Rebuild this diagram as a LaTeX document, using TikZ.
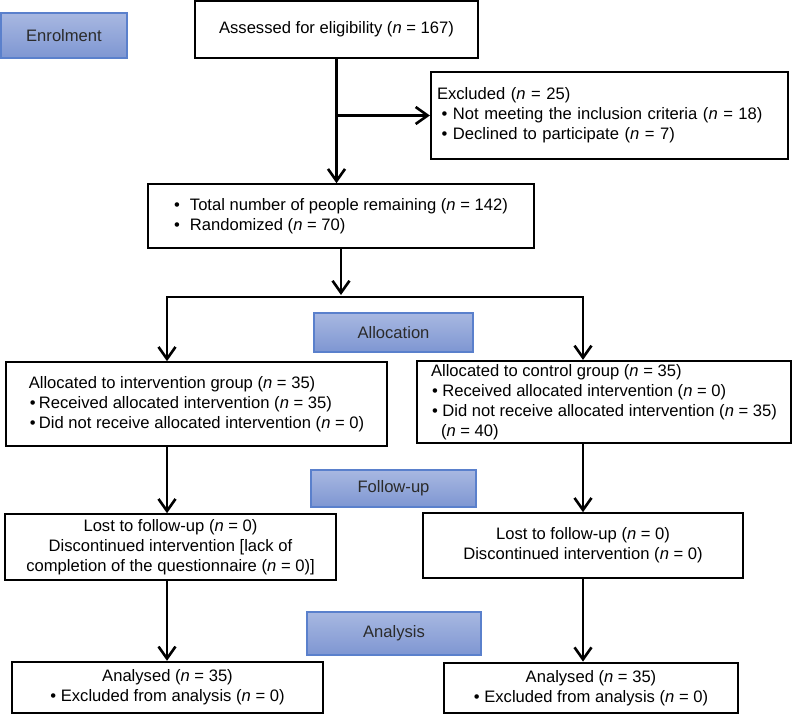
\documentclass[tikz,border=0pt]{standalone}
\usepackage{fontspec}
\setmainfont{Liberation Sans}
\usetikzlibrary{arrows.meta, positioning}

\definecolor{stagetop}{HTML}{A8B8E1}
\definecolor{stagebot}{HTML}{7E96D2}
\definecolor{stageline}{HTML}{5A80CC}
\definecolor{stagetext}{HTML}{2B2B2B}

\newcommand{\nn}{\textit{n}}

\begin{document}
\begin{tikzpicture}[x=1pt, y=-1pt,
        font=\fontsize{16.6}{20}\selectfont,
        >={Straight Barb[length=12pt, width=17pt]},
        flowbox/.style = {draw, line width=1.8pt, fill=white, align=center, inner xsep=4pt, inner ysep=2pt},
        stagebox/.style = {draw=stageline, line width=1.6pt, top color=stagetop, bottom color=stagebot, text=stagetext, inner sep=0pt},
        flowline/.style = {line width=2.6pt},
    ]
    \useasboundingbox (0,0) rectangle (792,714);
    % stages
    \node[stagebox, minimum width=126pt, minimum height=45pt]   (enrol)    at (64,35.5)    {Enrolment};
    \node[stagebox, minimum width=159pt, minimum height=39pt]   (alloc)    at (393.5,332.5) {Allocation};
    \node[stagebox, minimum width=165pt, minimum height=37pt]   (follow)   at (393.5,488.5) {Follow-up};
    \node[stagebox, minimum width=174pt, minimum height=43pt]   (analysis) at (394,633.5)   {Analysis};
    % boxes
    \node[flowbox, line width=2.4pt, minimum width=283pt, minimum height=57pt] (assessed) at (336.5,29.5)
        {Assessed for eligibility (\nn{} = 167)};
    \node[flowbox, line width=2.2pt, align=left, text width=345pt, inner xsep=6pt, minimum height=87pt] (excluded) at (609.5,115.5)
        {Excluded (\nn{} = 25)\\\hspace*{4.6pt}•\ Not meeting the inclusion criteria (\nn{} = 18)\\\hspace*{4.6pt}•\ Declined to participate (\nn{} = 7)};
    \node[flowbox, line width=1.6pt, align=left, minimum width=386pt, minimum height=64pt] (remain) at (341,216)
        {•\hspace{10pt}Total number of people remaining (\nn{} = 142)\\•\hspace{10pt}Randomized (\nn{} = 70)};
    \node[flowbox, line width=1.6pt, align=left, minimum width=381pt, minimum height=84pt] (interv) at (196.5,404)
        {Allocated to intervention group (\nn{} = 35)\\\hspace*{1pt}•\hspace{3.4pt}Received allocated intervention (\nn{} = 35)\\\hspace*{1pt}•\hspace{3.4pt}Did not receive allocated intervention (\nn{} = 0)};
    \node[flowbox, line width=2.2pt, align=left, minimum width=374pt, minimum height=82pt] (control) at (604,402)
        {Allocated to control group (\nn{} = 35)\\\hspace*{1pt}•\ Received allocated intervention (\nn{} = 0)\\\hspace*{1pt}•\ Did not receive allocated intervention (\nn{} = 35)\\\hspace*{10pt}(\nn{} = 40)};
    \node[flowbox, line width=1.6pt, minimum width=331pt, minimum height=66pt] (lfollow) at (170.5,547)
        {Lost to follow-up (\nn{} = 0)\\Discontinued intervention [lack of\\completion of the questionnaire (\nn{} = 0)]};
    \node[flowbox, line width=1.6pt, minimum width=320pt, minimum height=65pt] (rfollow) at (583,545.5)
        {Lost to follow-up (\nn{} = 0)\\Discontinued intervention (\nn{} = 0)};
    \node[flowbox, line width=2.4pt, minimum width=311pt, minimum height=51pt] (lanal) at (167.5,687.5)
        {Analysed (\nn{} = 35)\\•\ Excluded from analysis (\nn{} = 0)};
    \node[flowbox, line width=2.8pt, minimum width=294pt, minimum height=50pt] (ranal) at (591,688)
        {Analysed (\nn{} = 35)\\•\ Excluded from analysis (\nn{} = 0)};
    %
    \coordinate (lsplit) at (167,297);
    \coordinate (rsplit) at (583,297);
    %
    \draw[flowline, ->] (assessed.south) -- (assessed.south |- remain.north);
    \draw[flowline, ->] (assessed.south |- excluded.west) -- (excluded.west);
    \draw[flowline, ->, shorten >=2pt] (remain.south) -- (remain.south |- lsplit);
    \draw[flowline, <->] (lsplit |- interv.north) -- (lsplit) -- (rsplit) -- (rsplit |- control.north);
    \draw[flowline, ->] (lsplit |- interv.south) -- (lsplit |- lfollow.north);
    \draw[flowline, ->] (lsplit |- lfollow.south) -- (lsplit |- lanal.north);
    \draw[flowline, ->] (rsplit |- control.south) -- (rsplit |- rfollow.north);
    \draw[flowline, ->] (rsplit |- rfollow.south) -- (rsplit |- ranal.north);
    %
\end{tikzpicture}
\end{document}
